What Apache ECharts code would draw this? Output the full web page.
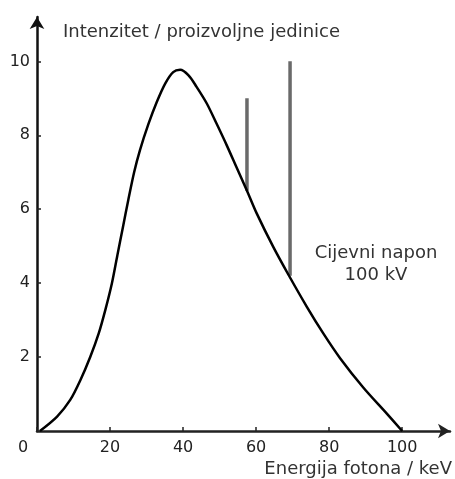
<!DOCTYPE html>
<html>
<head>
<meta charset="utf-8">
<script src="https://cdn.jsdelivr.net/npm/echarts@6/dist/echarts.min.js"></script>
<style>
    html, body { margin: 0; padding: 0; background: #fff; }
    #chart { width: 455px; height: 479px; }
</style>
</head>
<body>
<div id="chart"></div>
<script>
// kontinuirani spektar (kočno zračenje)
var curveE = [0.8, 5.5, 9.1, 11.9, 14.6, 16.9, 18.7, 20.5, 22, 23.5, 25, 26.6, 28.2, 30.5, 32.8, 35.1, 37.3, 39.2, 41.5, 43.7, 46.5, 49.2, 52, 54.7, 57.5, 60.2, 64.7, 68.9, 73.9, 78.4, 83, 89.4, 95.8, 100];
var curveI = [0, 0.39, 0.84, 1.38, 2.01, 2.64, 3.27, 3.99, 4.75, 5.5, 6.25, 7.0, 7.6, 8.3, 8.9, 9.4, 9.71, 9.77, 9.62, 9.31, 8.86, 8.31, 7.72, 7.12, 6.5, 5.88, 4.98, 4.22, 3.36, 2.64, 1.97, 1.17, 0.47, 0];
// karakteristične linije
var linesE = [57.5, 69.3];
var linesBase = [6.5, 4.2];
var linesTop = [9.0, 10.0];
// oznake osi
var xTicks = [0, 20, 40, 60, 80, 100];
var yTicks = [2, 4, 6, 8, 10];

var font = 'DejaVu Sans';

var curveData = curveE.map(function (e, i) { return [e, curveI[i]]; });
var lineSeries = linesE.map(function (e, i) {
    return {
        type: 'line',
        data: [[e, linesBase[i]], [e, linesTop[i]]],
        symbol: 'none',
        lineStyle: { color: '#6a6a6a', width: 3.5 },
        z: 1
    };
});

var myChart = echarts.init(document.getElementById('chart'));
myChart.setOption({
    backgroundColor: '#fff',
    animation: false,
    grid: { left: 37, right: 5, top: 17, bottom: 48, outerBoundsMode: 'none' },
    xAxis: {
        type: 'value',
        min: 0,
        max: 113.1,
        name: 'Energija fotona / keV',
        nameLocation: 'end',
        nameGap: 2,
        nameMoveOverlap: false,
        nameTextStyle: {
            fontFamily: font, fontSize: 18, color: '#333',
            align: 'right', verticalAlign: 'top', lineHeight: 76
        },
        axisLine: {
            lineStyle: { color: '#222', width: 2.5 },
            symbol: ['none', 'arrow'],
            symbolSize: [11, 12]
        },
        axisTick: { customValues: xTicks, inside: true, length: 4, lineStyle: { color: '#222', width: 1.5 } },
        axisLabel: {
            customValues: xTicks,
            margin: 9,
            fontFamily: font, fontSize: 16, color: '#222',
            formatter: function (v) { return v === 0 ? '{o|0}' : String(v); },
            rich: { o: { fontFamily: font, fontSize: 16, color: '#222', padding: [0, 28, 0, 0] } }
        },
        splitLine: { show: false }
    },
    yAxis: {
        type: 'value',
        min: 0,
        max: 11.2,
        name: 'Intenzitet / proizvoljne jedinice',
        nameLocation: 'end',
        nameGap: -15,
        nameMoveOverlap: false,
        nameTextStyle: {
            fontFamily: font, fontSize: 18, color: '#333',
            align: 'left', verticalAlign: 'middle', padding: [0, 0, 0, 26]
        },
        axisLine: {
            show: true,
            lineStyle: { color: '#111', width: 2.5 },
            symbol: ['none', 'arrow'],
            symbolSize: [11, 12]
        },
        axisTick: { show: true, customValues: yTicks, inside: true, length: 4, lineStyle: { color: '#222', width: 1.5 } },
        axisLabel: { customValues: yTicks, margin: 7, fontFamily: font, fontSize: 16, color: '#222' },
        splitLine: { show: false }
    },
    graphic: [{
        type: 'text',
        x: 376,
        y: 242,
        style: {
            text: 'Cijevni napon\n100 kV',
            fontFamily: font,
            fontSize: 18,
            lineHeight: 22,
            fill: '#333',
            align: 'center'
        }
    }],
    series: [{
        type: 'line',
        data: curveData,
        smooth: 0.3,
        symbol: 'none',
        lineStyle: { color: '#000', width: 2.5 },
        z: 3
    }].concat(lineSeries)
});
</script>
</body>
</html>
